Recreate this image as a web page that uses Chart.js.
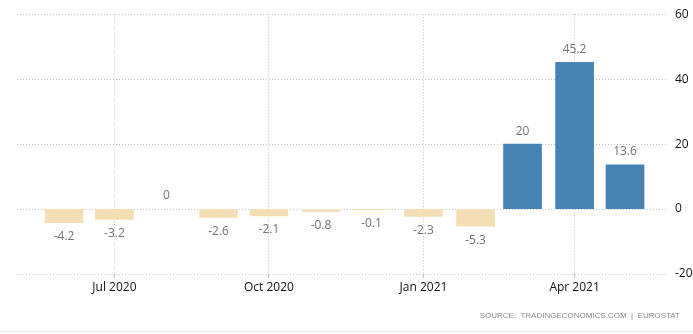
<!DOCTYPE html>
<html>
<head>
<meta charset="utf-8">
<script src="https://cdn.jsdelivr.net/npm/chart.js@4/dist/chart.umd.min.js"></script>
<style>
  body { margin: 0; background: #fff; }
  #wrap { position: relative; width: 693px; height: 334px; }
  #source {
    position: absolute; right: 13px; top: 311px;
    font: 8px "Liberation Sans", Arial, sans-serif;
    color: #8a8a8a; white-space: pre;
  }
  #rule { position: absolute; left: 0; right: 0; top: 331px; border-top: 1px solid #eee; }
</style>
</head>
<body>
<div id="wrap">
  <canvas id="chart" width="693" height="334"></canvas>
  <div id="source">SOURCE:  TRADINGECONOMICS.COM  |  EUROSTAT</div>
  <div id="rule"></div>
</div>
<script>
// monthly change, %
const months = ["2020-06", "2020-07", "2020-08", "2020-09", "2020-10", "2020-11",
                "2020-12", "2021-01", "2021-02", "2021-03", "2021-04", "2021-05"];
const values = [-4.2, -3.2, 0, -2.6, -2.1, -0.8, -0.1, -2.3, -5.3, 20, 45.2, 13.6];

const tickMonths = ["2020-07", "2020-10", "2021-01", "2021-04"];
const tickLabels = ["Jul 2020", "Oct 2020", "Jan 2021", "Apr 2021"];

const yTicks = [-20, 0, 20, 40, 60];

// day number for the first of a "YYYY-MM" month
function dayOf(m) {
    const [y, mo] = m.split("-").map(Number);
    return Date.UTC(y, mo - 1, 1) / 86400000;
}

const points = months.map((m, i) => ({ x: dayOf(m), y: values[i] }));
const tickDays = tickMonths.map(dayOf);
const firstDay = dayOf(months[0]);

const barColor = v => v > 0 ? "#4682b4" : v < 0 ? "#f5deb3" : "rgba(0,0,0,0)";

const valueLabels = {
    id: "valueLabels",
    afterDatasetsDraw(chart) {
        const ctx = chart.ctx;
        const meta = chart.getDatasetMeta(0);
        ctx.save();
        ctx.font = "12px 'Open Sans', sans-serif";
        ctx.fillStyle = "#727272";
        ctx.textAlign = "center";
        ctx.textBaseline = "middle";
        meta.data.forEach((bar, i) => {
            const v = values[i];
            const y = v >= 0 ? bar.y - 13 : bar.y + 14;
            ctx.fillText(String(v), bar.x, y);
        });
        ctx.restore();
    }
};

new Chart(document.getElementById("chart"), {
    type: "bar",
    data: {
        datasets: [{
            data: points,
            backgroundColor: values.map(barColor),
            barThickness: 38
        }]
    },
    options: {
        responsive: false,
        animation: false,
        layout: { padding: { left: 17, top: 10, right: 0, bottom: 30 } },
        plugins: { legend: { display: false }, tooltip: { enabled: false } },
        scales: {
            x: {
                type: "linear",
                offset: false,
                min: firstDay - 28,
                max: firstDay + 359.6,
                afterBuildTicks: s => { s.ticks = tickDays.map(v => ({ value: v })); },
                afterFit: s => { s.height = 30; },
                ticks: {
                    autoSkip: false,
                    maxRotation: 0,
                    padding: 2,
                    color: "#111",
                    font: { family: "'Open Sans', sans-serif", size: 12 },
                    callback: v => tickLabels[tickDays.indexOf(v)]
                },
                grid: { offset: false, color: "#c4c4c4", tickLength: 4, drawTicks: true },
                border: { display: false, dash: [1, 2] }
            },
            y: {
                position: "right",
                min: -20,
                max: 60,
                afterBuildTicks: s => { s.ticks = yTicks.map(v => ({ value: v })); },
                afterFit: s => { s.width = 25; },
                ticks: {
                    padding: 7,
                    color: "#111",
                    font: { family: "'Open Sans', sans-serif", size: 12 }
                },
                grid: { color: "#c4c4c4", drawTicks: false },
                border: { display: false, dash: [1, 2] }
            }
        }
    },
    plugins: [valueLabels]
});
</script>
</body>
</html>
